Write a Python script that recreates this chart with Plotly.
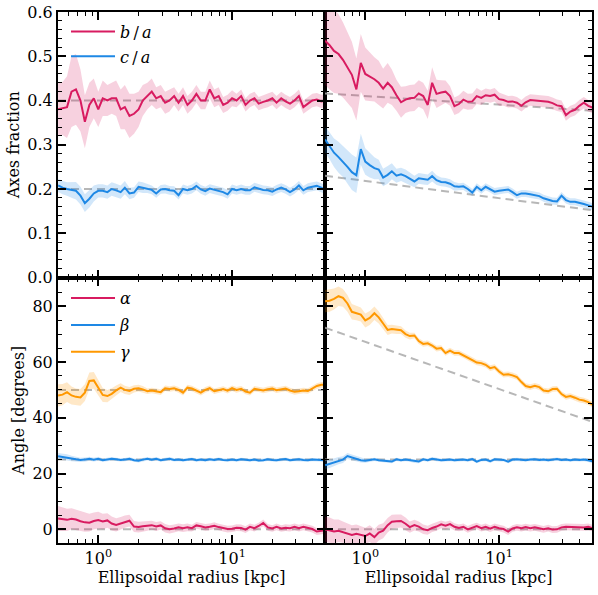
import plotly.graph_objects as go

# ---------------- data ----------------
RADIUS = [0.501, 0.541, 0.584, 0.631, 0.681, 0.736, 0.794, 0.858, 0.926, 1.0,
          1.08, 1.17, 1.26, 1.36, 1.47, 1.58, 1.71, 1.85, 2.0, 2.15,
          2.33, 2.51, 2.71, 2.93, 3.16, 3.41, 3.69, 3.98, 4.3, 4.64,
          5.01, 5.41, 5.84, 6.31, 6.81, 7.36, 7.94, 8.58, 9.26, 10.0,
          10.8, 11.7, 12.6, 13.6, 14.7, 15.8, 17.1, 18.5, 20.0, 21.5,
          23.3, 25.1, 27.1, 29.3, 31.6, 34.1, 36.9, 39.8, 43.0, 46.4, 50.1]

# top-left: axis ratios (constant model)
TL_BA = [0.380, 0.382, 0.385, 0.420, 0.425, 0.400, 0.352, 0.390, 0.405, 0.380,
         0.405, 0.400, 0.405, 0.405, 0.380, 0.385, 0.365, 0.370, 0.380, 0.400,
         0.410, 0.420, 0.405, 0.410, 0.395, 0.400, 0.410, 0.395, 0.410, 0.390,
         0.400, 0.415, 0.400, 0.400, 0.425, 0.405, 0.410, 0.390, 0.395, 0.405,
         0.400, 0.410, 0.390, 0.400, 0.405, 0.393, 0.397, 0.400, 0.405, 0.395,
         0.405, 0.398, 0.393, 0.400, 0.410, 0.385, 0.393, 0.400, 0.402, 0.398, 0.400]
TL_BA_ERR = [0.06, 0.06, 0.07, 0.08, 0.08, 0.07, 0.06, 0.05, 0.045, 0.04,
             0.04, 0.035, 0.035, 0.04, 0.045, 0.05, 0.05, 0.045, 0.04, 0.035,
             0.03, 0.03, 0.025, 0.025, 0.025, 0.025, 0.02, 0.02, 0.02, 0.02,
             0.02, 0.02, 0.02, 0.02, 0.02, 0.02, 0.02, 0.018, 0.018, 0.018,
             0.015, 0.015, 0.015, 0.015, 0.015, 0.015, 0.015, 0.015, 0.015, 0.015,
             0.015, 0.015, 0.015, 0.015, 0.015, 0.015, 0.015, 0.015, 0.015, 0.015, 0.015]
TL_CA = [0.208, 0.203, 0.200, 0.198, 0.196, 0.185, 0.168, 0.178, 0.190, 0.196,
         0.196, 0.193, 0.200, 0.197, 0.193, 0.203, 0.190, 0.192, 0.205, 0.203,
         0.201, 0.198, 0.190, 0.199, 0.200, 0.197, 0.196, 0.186, 0.200, 0.197,
         0.200, 0.207, 0.199, 0.195, 0.201, 0.198, 0.195, 0.193, 0.188, 0.200,
         0.197, 0.200, 0.197, 0.197, 0.204, 0.201, 0.198, 0.197, 0.194, 0.199,
         0.203, 0.199, 0.193, 0.199, 0.208, 0.197, 0.203, 0.205, 0.207, 0.203, 0.198]
TL_CA_ERR = [0.015, 0.015, 0.015, 0.018, 0.02, 0.02, 0.02, 0.02, 0.018, 0.015,
             0.015, 0.015, 0.015, 0.015, 0.015, 0.015, 0.013, 0.012, 0.012, 0.012,
             0.01, 0.01, 0.01, 0.01, 0.01, 0.01, 0.01, 0.01, 0.01, 0.01,
             0.01, 0.01, 0.01, 0.01, 0.01, 0.01, 0.01, 0.01, 0.01, 0.01,
             0.01, 0.01, 0.01, 0.01, 0.01, 0.01, 0.01, 0.01, 0.01, 0.01,
             0.01, 0.01, 0.01, 0.01, 0.01, 0.01, 0.01, 0.01, 0.01, 0.01, 0.01]

# top-right: axis ratios (radially varying model)
TR_BA = [0.535, 0.525, 0.512, 0.505, 0.492, 0.475, 0.458, 0.425, 0.485, 0.460,
         0.454, 0.448, 0.440, 0.427, 0.440, 0.430, 0.412, 0.396, 0.402, 0.405,
         0.406, 0.416, 0.410, 0.390, 0.440, 0.415, 0.418, 0.420, 0.410, 0.387,
         0.392, 0.402, 0.397, 0.398, 0.410, 0.406, 0.412, 0.410, 0.413, 0.403,
         0.401, 0.397, 0.398, 0.395, 0.388, 0.396, 0.401, 0.400, 0.399, 0.398,
         0.397, 0.394, 0.389, 0.387, 0.367, 0.375, 0.379, 0.388, 0.395, 0.388, 0.384]
TR_BA_ERR = [0.10, 0.10, 0.095, 0.09, 0.085, 0.08, 0.075, 0.07, 0.065, 0.06,
             0.055, 0.05, 0.05, 0.045, 0.045, 0.04, 0.035, 0.035, 0.03, 0.03,
             0.03, 0.03, 0.03, 0.032, 0.035, 0.032, 0.028, 0.025, 0.022, 0.02,
             0.02, 0.02, 0.018, 0.018, 0.018, 0.016, 0.015, 0.015, 0.015, 0.015,
             0.013, 0.013, 0.013, 0.013, 0.013, 0.013, 0.013, 0.013, 0.013, 0.013,
             0.013, 0.013, 0.013, 0.013, 0.013, 0.013, 0.013, 0.013, 0.013, 0.013, 0.013]
TR_CA = [0.312, 0.297, 0.282, 0.272, 0.262, 0.250, 0.238, 0.231, 0.290, 0.262,
         0.254, 0.247, 0.244, 0.226, 0.232, 0.240, 0.230, 0.233, 0.229, 0.223,
         0.217, 0.224, 0.222, 0.221, 0.229, 0.220, 0.216, 0.215, 0.212, 0.206,
         0.205, 0.206, 0.200, 0.192, 0.205, 0.197, 0.205, 0.200, 0.194, 0.196,
         0.198, 0.199, 0.193, 0.186, 0.190, 0.190, 0.188, 0.186, 0.184, 0.179,
         0.175, 0.173, 0.172, 0.185, 0.175, 0.171, 0.171, 0.169, 0.166, 0.163, 0.160]
TR_CA_ERR = [0.03, 0.03, 0.032, 0.035, 0.035, 0.038, 0.04, 0.04, 0.035, 0.03,
             0.028, 0.025, 0.022, 0.02, 0.02, 0.018, 0.016, 0.015, 0.015, 0.014,
             0.013, 0.012, 0.012, 0.012, 0.012, 0.011, 0.01, 0.01, 0.01, 0.01,
             0.008, 0.008, 0.008, 0.008, 0.008, 0.008, 0.008, 0.008, 0.008, 0.008,
             0.008, 0.008, 0.008, 0.008, 0.008, 0.008, 0.008, 0.008, 0.008, 0.008,
             0.008, 0.008, 0.008, 0.008, 0.008, 0.008, 0.008, 0.008, 0.008, 0.008, 0.008]

# bottom-left: angles (constant model)
BL_G = [48.0, 48.3, 49.2, 48.0, 47.5, 47.3, 49.0, 53.2, 53.4, 51.0,
        48.2, 47.8, 48.6, 49.8, 50.8, 50.0, 49.6, 50.4, 50.6, 50.2,
        49.5, 49.8, 49.6, 49.2, 50.6, 50.3, 50.6, 50.0, 49.0, 50.8,
        50.5, 49.8, 49.0, 50.0, 50.6, 49.5, 49.8, 50.3, 49.7, 50.6,
        50.0, 50.4, 49.4, 49.0, 50.4, 50.2, 49.8, 50.2, 50.5, 49.9,
        50.2, 50.5, 49.8, 49.3, 49.5, 49.8, 49.6, 50.6, 51.4, 51.8, 51.8]
BL_G_ERR = [4.0, 3.8, 3.5, 3.2, 3.0, 3.0, 3.0, 3.0, 3.0, 2.8,
            2.5, 2.2, 2.0, 1.8, 1.6, 1.5, 1.4, 1.3, 1.2, 1.2,
            1.0, 1.0, 1.0, 1.0, 1.0, 1.0, 1.0, 1.0, 1.0, 1.0,
            1.0, 1.0, 1.0, 1.0, 1.0, 1.0, 1.0, 1.0, 1.0, 1.0,
            1.0, 1.0, 1.0, 1.0, 1.0, 1.0, 1.0, 1.0, 1.0, 1.0,
            1.0, 1.0, 1.0, 1.0, 1.0, 1.0, 1.0, 1.0, 1.0, 1.0, 1.0]
BL_B = [26.2, 26.0, 25.8, 25.4, 25.1, 24.9, 25.0, 25.3, 25.0, 25.3,
        24.8, 25.0, 25.3, 25.1, 24.9, 25.0, 25.3, 24.8, 24.6, 25.0,
        25.3, 25.0, 25.3, 24.8, 25.0, 25.3, 24.9, 25.0, 24.8, 25.1,
        25.2, 24.8, 25.0, 24.8, 25.1, 24.9, 25.2, 24.9, 24.8, 25.0,
        24.8, 25.1, 25.0, 24.8, 25.0, 24.7, 24.8, 25.1, 24.9, 24.8,
        25.0, 25.2, 24.8, 25.0, 25.1, 24.9, 24.8, 25.0, 24.9, 24.9, 24.8]
BL_B_ERR = [1.2, 1.2, 1.1, 1.0, 0.9, 0.8, 0.8, 0.7, 0.7, 0.7,
            0.6, 0.6, 0.6, 0.6, 0.6, 0.6, 0.6, 0.6, 0.6, 0.6,
            0.6, 0.6, 0.6, 0.6, 0.6, 0.6, 0.6, 0.6, 0.6, 0.6,
            0.6, 0.6, 0.6, 0.6, 0.6, 0.6, 0.6, 0.6, 0.6, 0.6,
            0.6, 0.6, 0.6, 0.6, 0.6, 0.6, 0.6, 0.6, 0.6, 0.6,
            0.6, 0.6, 0.6, 0.6, 0.6, 0.6, 0.6, 0.6, 0.6, 0.6, 0.6]
BL_A = [3.9, 3.6, 3.4, 3.8, 3.5, 2.9, 2.5, 2.4, 3.0, 3.3,
        2.8, 3.2, 2.1, 1.6, 2.1, 2.8, 3.1, 1.0, 0.8, 1.1,
        1.2, 1.5, 1.0, 1.4, 0.4, 0.0, 0.3, 0.7, 0.4, 0.7,
        0.4, 1.4, 1.1, 0.7, 0.9, 1.3, 0.8, 0.4, 0.1, 0.2,
        0.6, 0.5, -0.1, 0.9, 0.4, 1.2, 2.3, 0.7, 0.3, 0.9,
        0.3, 0.6, 0.4, 0.9, 0.4, 0.9, 0.4, 0.1, -0.8, -0.5, -0.3]
BL_A_ERR = [4.5, 4.3, 4.0, 3.8, 3.6, 3.5, 3.4, 3.2, 3.0, 3.0,
            2.8, 2.6, 2.5, 2.4, 2.3, 2.2, 2.1, 2.0, 1.9, 1.8,
            1.7, 1.6, 1.6, 1.5, 1.5, 1.5, 1.4, 1.4, 1.4, 1.4,
            1.2, 1.2, 1.2, 1.2, 1.2, 1.2, 1.2, 1.2, 1.2, 1.2,
            1.2, 1.2, 1.2, 1.2, 1.2, 1.2, 1.2, 1.2, 1.2, 1.2,
            1.2, 1.2, 1.2, 1.2, 1.2, 1.2, 1.2, 1.2, 1.2, 1.2, 1.2]

# bottom-right: angles (radially varying model)
BR_G = [81.8, 82.0, 82.6, 83.6, 83.0, 81.0, 78.0, 77.6, 77.0, 74.9,
        75.8, 77.5, 76.0, 73.8, 71.5, 71.8, 71.5, 71.4, 70.0, 69.3,
        69.5, 67.5, 66.5, 66.7, 65.9, 64.8, 65.0, 63.2, 64.1, 63.2,
        63.2, 62.4, 61.8, 60.7, 59.8, 59.6, 59.0, 57.8, 58.2, 56.6,
        55.4, 55.6, 55.2, 54.6, 52.8, 51.4, 51.0, 51.5, 51.0, 49.8,
        49.5, 50.3, 50.4, 48.5, 47.5, 47.8, 47.2, 46.5, 46.2, 45.6, 44.7]
BR_G_ERR = [4.0, 4.0, 3.8, 3.5, 3.2, 3.0, 2.8, 2.6, 2.5, 2.5,
            2.5, 2.4, 2.2, 2.0, 1.8, 1.6, 1.5, 1.4, 1.3, 1.2,
            1.0, 1.0, 1.0, 1.0, 1.0, 1.0, 1.0, 1.0, 1.0, 1.0,
            1.0, 1.0, 1.0, 1.0, 1.0, 1.0, 1.0, 1.0, 1.0, 1.0,
            1.0, 1.0, 1.0, 1.0, 1.0, 1.0, 1.0, 1.0, 1.0, 1.0,
            1.0, 1.0, 1.0, 1.0, 1.0, 1.0, 1.0, 1.0, 1.0, 1.0, 1.0]
BR_B = [23.0, 23.5, 24.0, 24.6, 25.0, 26.3, 25.8, 25.4, 24.8, 24.6,
        24.8, 25.1, 24.8, 24.6, 24.4, 24.3, 25.1, 24.8, 25.0, 24.8,
        24.4, 24.3, 25.1, 24.8, 25.3, 25.0, 24.8, 24.9, 25.0, 24.8,
        24.9, 25.0, 24.8, 25.2, 24.3, 24.9, 25.0, 24.4, 25.1, 24.9,
        24.9, 24.3, 25.0, 25.1, 24.9, 24.8, 25.0, 25.1, 24.9, 25.0,
        24.8, 25.0, 25.2, 24.9, 25.0, 24.8, 25.0, 24.9, 25.0, 24.8, 24.4]
BR_B_ERR = [1.5, 1.5, 1.4, 1.3, 1.2, 1.1, 1.0, 0.9, 0.8, 0.7,
            0.6, 0.6, 0.6, 0.6, 0.6, 0.6, 0.6, 0.6, 0.6, 0.6,
            0.6, 0.6, 0.6, 0.6, 0.6, 0.6, 0.6, 0.6, 0.6, 0.6,
            0.6, 0.6, 0.6, 0.6, 0.6, 0.6, 0.6, 0.6, 0.6, 0.6,
            0.6, 0.6, 0.6, 0.6, 0.6, 0.6, 0.6, 0.6, 0.6, 0.6,
            0.6, 0.6, 0.6, 0.6, 0.6, 0.6, 0.6, 0.6, 0.6, 0.6, 0.6]
BR_A = [0.0, -0.3, -0.8, -0.5, -1.0, -1.6, -2.0, -1.6, -2.0, -2.4,
        -1.5, -2.8, -1.2, -0.5, 1.5, 2.7, 2.9, 3.0, 2.0, 0.8,
        1.5, 1.0, 0.0, -0.3, 0.5, 1.0, 1.8, 1.3, 1.9, 0.9,
        0.5, 0.9, 0.0, 0.7, 1.2, 0.4, 0.9, 0.2, 0.9, 0.4,
        0.1, -0.8, 0.3, 0.7, 0.4, 0.8, 0.4, 0.7, 0.3, 0.0,
        0.4, -0.1, 0.0, 0.7, 0.9, 0.8, 0.8, 0.8, 0.7, 0.9, 0.4]
BR_A_ERR = [4.5, 4.5, 4.3, 4.0, 3.8, 3.6, 3.5, 3.3, 3.2, 3.0,
            3.0, 2.9, 2.8, 2.7, 2.6, 2.5, 2.4, 2.3, 2.2, 2.0,
            1.9, 1.8, 1.7, 1.6, 1.5, 1.5, 1.4, 1.4, 1.3, 1.3,
            1.2, 1.2, 1.2, 1.2, 1.2, 1.2, 1.2, 1.2, 1.2, 1.2,
            1.2, 1.2, 1.2, 1.2, 1.2, 1.2, 1.2, 1.2, 1.2, 1.2,
            1.2, 1.2, 1.2, 1.2, 1.2, 1.2, 1.2, 1.2, 1.2, 1.2, 1.2]

# model (dashed) reference lines, given at the two ends of the radius range
MODEL_X = [0.5, 50.0]
MODEL_TL_BA = [0.40, 0.40]
MODEL_TL_CA = [0.20, 0.20]
MODEL_TR_BA = [0.416, 0.377]
MODEL_TR_CA = [0.230, 0.152]
MODEL_BL_A = [0.0, 0.0]
MODEL_BL_B = [25.0, 25.0]
MODEL_BL_G = [50.0, 50.0]
MODEL_BR_A = [0.0, 0.0]
MODEL_BR_B = [25.0, 25.0]
MODEL_BR_G = [72.3, 38.5]

X_TICKS = [1, 10]
X_TICK_TEXT = ["10<sup>0</sup>", "10<sup>1</sup>"]
X_MINOR = [0.6, 0.7, 0.8, 0.9, 2, 3, 4, 5, 6, 7, 8, 9, 20, 30, 40]

# ---------------- style ----------------
RED = "#D81B60"
BLUE = "#1E88E5"
ORANGE = "#FF9800"
FILLS = {RED: "rgba(216,27,96,0.2)", BLUE: "rgba(30,136,229,0.2)",
         ORANGE: "rgba(255,152,0,0.22)"}
FONT = "'DejaVu Serif', 'Liberation Serif', serif"

fig = go.Figure()


def add_model(xa, ya, yv):
    fig.add_trace(go.Scatter(x=MODEL_X, y=yv, mode="lines", xaxis=xa, yaxis=ya,
                             line=dict(color="rgba(170,170,170,0.85)", width=2, dash="8px,5px"),
                             showlegend=False, hoverinfo="skip"))


def add_series(xa, ya, y, err, color, name=None, legend=None):
    up = [v + e for v, e in zip(y, err)]
    lo = [v - e for v, e in zip(y, err)]
    fig.add_trace(go.Scatter(x=RADIUS + RADIUS[::-1], y=up + lo[::-1], mode="lines",
                             fill="toself", fillcolor=FILLS[color], line=dict(width=0),
                             xaxis=xa, yaxis=ya, showlegend=False, hoverinfo="skip"))
    fig.add_trace(go.Scatter(x=RADIUS, y=y, mode="lines", xaxis=xa, yaxis=ya,
                             line=dict(color=color, width=2),
                             name=name, showlegend=name is not None,
                             legendgroup=name,
                             legend=legend if legend else "legend"))


# top-left
add_model("x", "y", MODEL_TL_BA)
add_model("x", "y", MODEL_TL_CA)
add_series("x", "y", TL_BA, TL_BA_ERR, RED, "<i>b</i>\u2009/\u2009<i>a</i>", "legend")
add_series("x", "y", TL_CA, TL_CA_ERR, BLUE, "<i>c</i>\u2009/\u2009<i>a</i>", "legend")
# top-right
add_model("x2", "y2", MODEL_TR_BA)
add_model("x2", "y2", MODEL_TR_CA)
add_series("x2", "y2", TR_BA, TR_BA_ERR, RED)
add_series("x2", "y2", TR_CA, TR_CA_ERR, BLUE)
# bottom-left
add_model("x3", "y3", MODEL_BL_A)
add_model("x3", "y3", MODEL_BL_B)
add_model("x3", "y3", MODEL_BL_G)
add_series("x3", "y3", BL_A, BL_A_ERR, RED, "<i>α</i>", "legend2")
add_series("x3", "y3", BL_B, BL_B_ERR, BLUE, "<i>β</i>", "legend2")
add_series("x3", "y3", BL_G, BL_G_ERR, ORANGE, "<i>γ</i>", "legend2")
# bottom-right
add_model("x4", "y4", MODEL_BR_A)
add_model("x4", "y4", MODEL_BR_B)
add_model("x4", "y4", MODEL_BR_G)
add_series("x4", "y4", BR_A, BR_A_ERR, RED)
add_series("x4", "y4", BR_B, BR_B_ERR, BLUE)
add_series("x4", "y4", BR_G, BR_G_ERR, ORANGE)

XR = [-0.301, 1.6946]
common = dict(showline=True, linewidth=2, linecolor="black", mirror="allticks",
              ticks="inside", ticklen=8, tickwidth=1.5, tickcolor="black",
              showgrid=False, zeroline=False, automargin=False,
              tickfont=dict(family=FONT, size=16, color="black"))


def xax(domain, anchor, labels):
    d = dict(common)
    d.update(type="log", range=XR, domain=domain, anchor=anchor,
             tickmode="array", tickvals=X_TICKS, ticktext=X_TICK_TEXT,
             showticklabels=labels,
             minor=dict(ticks="inside", ticklen=4, tickwidth=1.2, tickcolor="black",
                        tickmode="array", tickvals=X_MINOR, showgrid=False))
    if labels:
        d.update(title=dict(text="Ellipsoidal radius [kpc]", standoff=5,
                            font=dict(family=FONT, size=16, color="black")))
    return d


def yax(domain, anchor, rng, dtick, mdtick, fmt, labels, title=None):
    d = dict(common)
    d.update(range=rng, domain=domain, anchor=anchor, dtick=dtick, tick0=0,
             tickformat=fmt, showticklabels=labels,
             minor=dict(ticks="inside", ticklen=4, tickwidth=1.2, tickcolor="black",
                        dtick=mdtick, tick0=0, showgrid=False))
    if title:
        d.update(title=dict(text=title, standoff=4,
                            font=dict(family=FONT, size=16, color="black")))
    return d


fig.update_layout(
    width=598, height=595,
    margin=dict(l=58, r=6, t=12, b=52),
    paper_bgcolor="white", plot_bgcolor="white",
    font=dict(family=FONT, size=16, color="black"),
    xaxis=xax([0, 0.5], "y", False),
    xaxis2=xax([0.5, 1], "y2", False),
    xaxis3=xax([0, 0.5], "y3", True),
    xaxis4=xax([0.5, 1], "y4", True),
    yaxis=yax([0.5, 1], "x", [0, 0.6], 0.1, 0.02, ".1f", True, "Axes fraction"),
    yaxis2=yax([0.5, 1], "x2", [0, 0.6], 0.1, 0.02, ".1f", False),
    yaxis3=yax([0, 0.5], "x3", [-4.9, 90.3], 20, 5, "d", True, "Angle [degrees]"),
    yaxis4=yax([0, 0.5], "x4", [-4.9, 90.3], 20, 5, "d", False),
    legend=dict(x=0.015, y=0.995, xanchor="left", yanchor="top",
                bgcolor="rgba(0,0,0,0)", font=dict(family=FONT, size=16),
                itemwidth=44, tracegroupgap=1),
    legend2=dict(x=0.015, y=0.493, xanchor="left", yanchor="top",
                 bgcolor="rgba(0,0,0,0)", font=dict(family=FONT, size=16),
                 itemwidth=44, tracegroupgap=3),
)

fig.write_html("out.html", config={"displayModeBar": False},
               post_script="document.body.style.margin='0px';document.body.style.padding='0px';")
